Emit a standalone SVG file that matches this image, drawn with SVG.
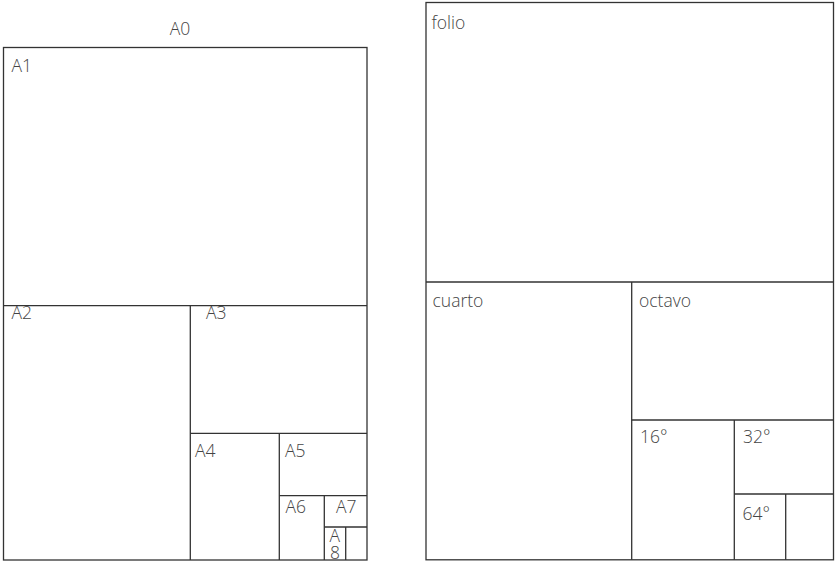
<svg xmlns="http://www.w3.org/2000/svg" width="839" height="563" viewBox="0 0 839 563">
<style>
.l{stroke:#333;stroke-width:1.3;fill:none}
.b{stroke:#333;stroke-width:1.3;fill:#fff}
text{font-family:"Open Sans","DejaVu Sans",sans-serif;font-weight:300;font-size:17.5px;fill:#444}
</style>
<rect width="839" height="563" fill="#fff"/>
<g id="a0">
<text x="180" y="34.5" text-anchor="middle">A0</text>
<rect class="b" x="3.5" y="47.5" width="363.5" height="512.5"/>
</g>
<g id="a1"><text x="11.5" y="71.5">A1</text></g>
<g id="a2"><text x="11.5" y="319">A2</text></g>
<g id="a3"><text x="206" y="319">A3</text></g>
<g id="a4"><text x="195" y="456.5">A4</text></g>
<g id="a5"><text x="285" y="456.5">A5</text></g>
<g id="a6"><text x="285.5" y="513">A6</text></g>
<g id="a7"><text x="336" y="513">A7</text></g>
<g id="a8"><text x="329.5" y="541.5">A<tspan x="330" y="559">8</tspan></text></g>
<g id="divisions-a">
<line class="l" x1="3.5" y1="305.7" x2="367" y2="305.7"/>
<line class="l" x1="190.3" y1="305.7" x2="190.3" y2="560"/>
<line class="l" x1="190.3" y1="433.3" x2="367" y2="433.3"/>
<line class="l" x1="279.3" y1="433.3" x2="279.3" y2="560"/>
<line class="l" x1="279.3" y1="495.7" x2="367" y2="495.7"/>
<line class="l" x1="324.3" y1="495.7" x2="324.3" y2="560"/>
<line class="l" x1="324.3" y1="527" x2="367" y2="527"/>
<line class="l" x1="345.7" y1="527" x2="345.7" y2="560"/>
</g>
<g id="folio">
<rect class="b" x="426" y="2.5" width="407.5" height="557.3"/>
<text x="431.5" y="28.5">folio</text>
</g>
<g id="cuarto"><text x="432.5" y="306.5">cuarto</text></g>
<g id="octavo"><text x="639" y="306.5">octavo</text></g>
<g id="d16"><text x="640" y="443.3">16°</text></g>
<g id="d32"><text x="743" y="443.3">32°</text></g>
<g id="d64"><text x="742.5" y="520">64°</text></g>
<g id="divisions-b">
<line class="l" x1="426" y1="282" x2="833.5" y2="282"/>
<line class="l" x1="631.7" y1="282" x2="631.7" y2="559.8"/>
<line class="l" x1="631.7" y1="420" x2="833.5" y2="420"/>
<line class="l" x1="734.3" y1="420" x2="734.3" y2="559.8"/>
<line class="l" x1="734.3" y1="494" x2="833.5" y2="494"/>
<line class="l" x1="785.7" y1="494" x2="785.7" y2="559.8"/>
</g>
</svg>
